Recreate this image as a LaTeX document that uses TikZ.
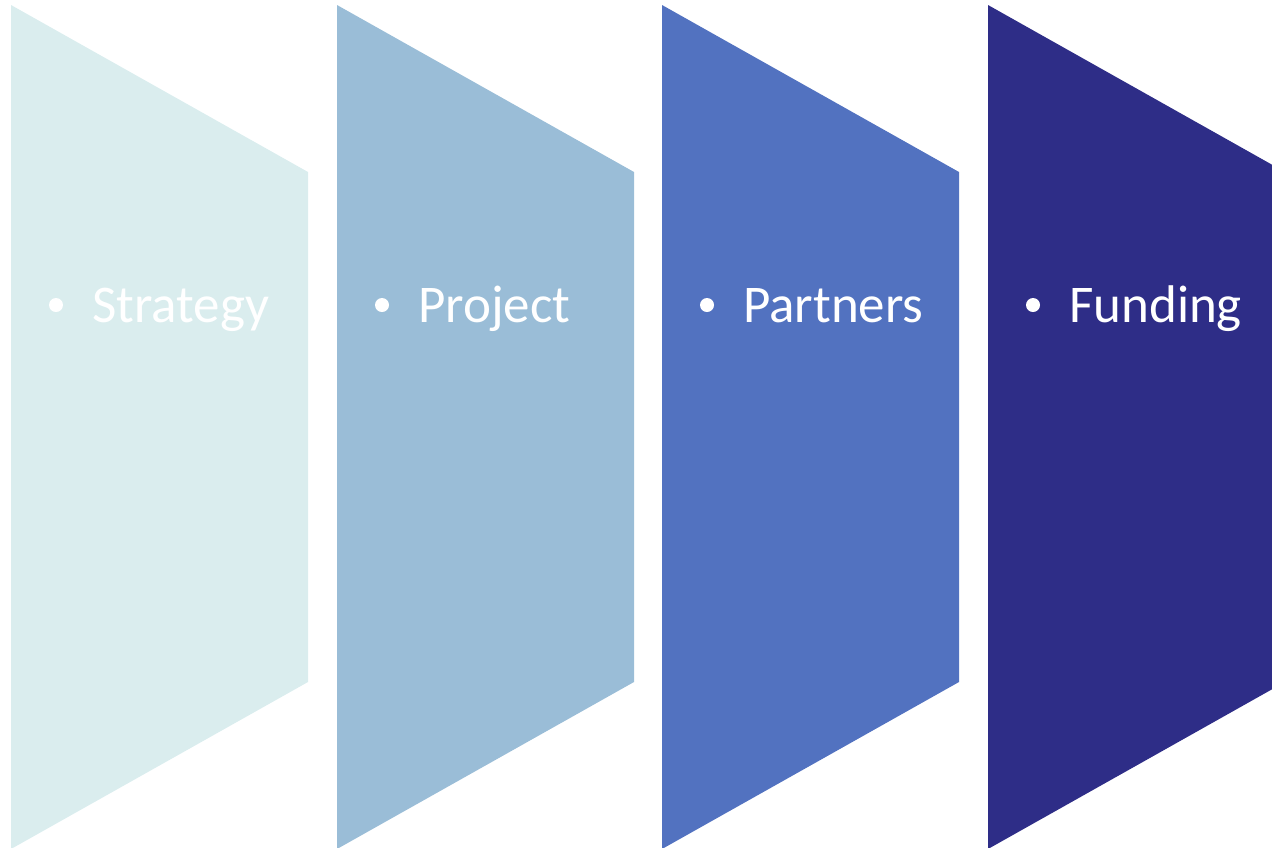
\documentclass[tikz,border=0pt]{standalone}
\usepackage{fontspec}
\setmainfont{Carlito}
\definecolor{c1}{HTML}{DAEDEE}
\definecolor{c2}{HTML}{9ABDD7}
\definecolor{c3}{HTML}{5272C0}
\definecolor{c4}{HTML}{2E2D87}
\tikzset{
  lbl/.style={anchor=base west, inner sep=0pt, text=white, font=\fontsize{53}{60}\selectfont},
  dot/.style={circle, fill=white, inner sep=0pt, minimum size=14pt}
}
\begin{document}
\begin{tikzpicture}[x=1pt,y=-1pt]
\useasboundingbox (0,0) rectangle (1272,847);
\clip (0,0) rectangle (1272,847);
\foreach \x/\c/\t/\n in {11/c1/Strategy/a, 337/c2/Project/b, 662/c3/Partners/c, 988/c4/Funding/d}{
  \fill[\c] (\x,5) -- (\x+297,172) -- (\x+297,682) -- (\x,849) -- cycle;
  \node[dot] (dot\n) at (\x+45,305) {};
  \node[lbl] (t\n) at (\x+81,322) {\t};
}
\end{tikzpicture}
\end{document}
